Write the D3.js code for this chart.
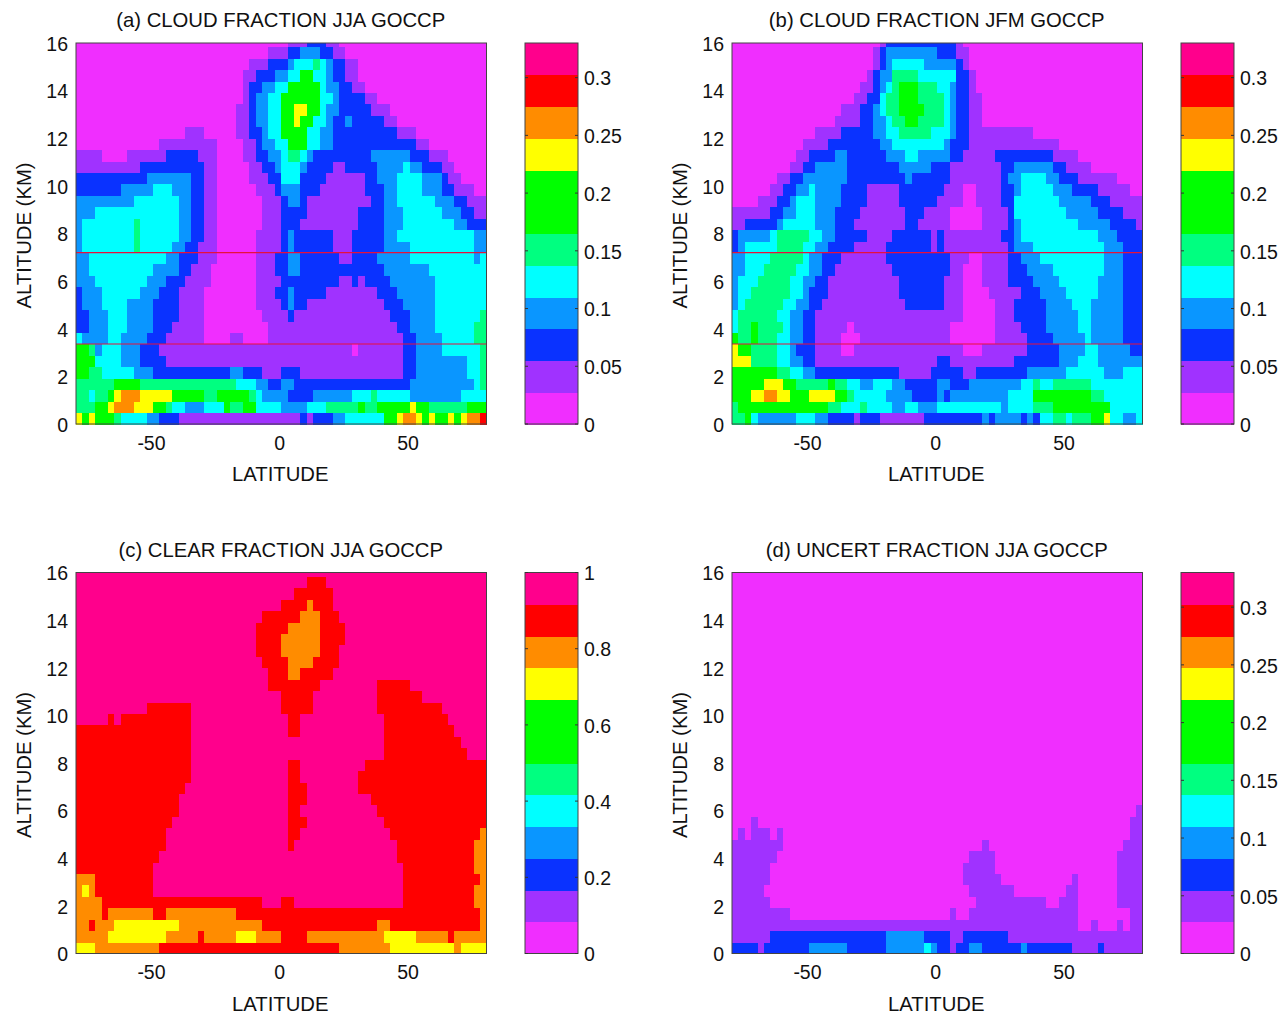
<!DOCTYPE html>
<html lang="en">

<head>
  <meta charset="UTF-8">
  <title>GOCCP cloud fractions</title>
  <script src="https://d3js.org/d3.v7.min.js"></script>
  <style>
    body {
      margin: 0;
      background: #fff;
    }

    text {
      font-family: "Liberation Sans", sans-serif;
      fill: #111;
    }
  </style>
</head>

<body>
  <svg width="1286" height="1015"></svg>
  <script>
    // rows run from the surface up, each level is 480 m, columns are 2.5 deg from 80S
    // a row reads as colour class + run length: M P B A C S G Y O R K, low to high
    const classBins = { M: 0, P: 1, B: 2, A: 3, C: 4, S: 5, G: 6, Y: 8, O: 9, R: 10, K: 11 }

    const cloudJJA = [
      "Y1 G1 Y1 G3 S1 C4 A2 B3 P19 B1 P1 B3 A2 C6 G2 Y1 O2 Y1 G1 Y1 G2 Y1 G1 Y1 O2 R1",
      "S3 G2 Y1 O3 Y3 G2 S1 C2 A3 C3 G1 S2 G2 C4 A4 C3 S5 G1 S2 G5 Y1 G2 S6 G3",
      "S2 C1 S2 G1 Y1 O3 Y5 G5 S2 G5 S1 C1 A4 B4 A6 C3 S1 C5 A8 C4",
      "S6 G4 S15 C3 A2 B2 A2 B18 A10 C1 S1",
      "G2 S2 C5 A3 B12 A2 B3 P3 B3 P16 B2 A8 C2 S1",
      "G3 C4 A3 B4 P37 B2 A8 C2 S1",
      "G2 S1 A1 C3 A3 B3 P30 M1 P7 B2 A4 C6 S1",
      "C1 A4 C2 A4 B3 P6 M4 P2 M4 P21 B2 A4 C5 S2",
      "B2 A3 C3 A4 B3 P5 M10 P20 B2 A4 C6 S2",
      "B2 A3 C3 A4 B4 P4 M9 P4 B1 P15 B3 A4 C7 S1",
      "B1 A3 C4 A4 B4 P4 M8 P4 B1 A1 B2 P12 B3 A5 C8",
      "B1 A3 C6 A3 B3 P4 M8 P3 B2 A1 B5 P8 B3 A6 C8",
      "A3 C8 A3 B3 P4 M7 P4 B9 P2 B1 P1 B4 A7 C8",
      "A2 C10 A4 B2 P3 M7 P3 B2 A2 B13 A7 C9",
      "A2 C12 A2 B3 P3 M6 P3 B2 A2 B6 P2 B4 A5 C10 A1 C1",
      "A1 C8 S1 C5 A2 B2 P3 M6 P4 B1 A1 B6 P3 B5 A4 C10 A2",
      "A1 C8 S1 C6 A2 B2 P2 M6 P4 B1 A1 B6 P3 B5 A2 C12 A2",
      "A1 C8 S1 C6 A2 B2 P2 M7 P3 B3 P9 B4 A3 C8 A2 B3",
      "A3 C13 A2 B2 P2 M7 P3 B4 P8 B4 A3 C6 A3 B2 P2",
      "A9 C7 A2 B2 P2 M7 P3 B1 A2 B1 P10 B2 A2 C6 A3 B2 P3",
      "B7 A5 C3 A3 B2 P2 M6 P3 B1 A3 B3 P7 B3 A2 C4 A3 B2 P3 M2",
      "B11 A7 B2 P2 M5 P3 B2 C3 B4 P6 B2 A3 C4 A3 B1 P2 M4",
      "P10 B10 P2 M5 P2 B2 A1 C3 A1 B4 P2 B5 A4 C1 A2 B3 P2 M5",
      "P4 M4 P6 B5 P3 M4 P2 B2 A2 C1 S2 C1 A1 B9 A6 B3 P3 M6",
      "M13 P9 M4 P2 B1 A2 C2 G3 C2 A2 B13 P2 M9",
      "M17 P3 M5 P2 B2 A1 C2 G4 C2 A2 B10 P3 M11",
      "M25 P2 B1 A2 C2 G2 Y1 G2 C2 A1 B2 A1 B5 P2 M14",
      "M25 P2 B1 A2 C2 G2 Y2 G2 C1 A2 B5 P3 M15",
      "M26 P1 B1 A2 C2 G6 C2 A1 B4 P2 M17",
      "M26 P1 B2 A2 C2 G5 C1 A2 B2 P2 M19",
      "M26 P2 B3 A2 C2 G2 C2 A1 B2 P2 M20",
      "M27 P3 B3 A1 C3 S1 C1 A1 B2 P2 M20",
      "M30 P3 B2 A3 B2 P2 M22",
      "M33 P3 B3 P2 M23"
    ]

    const cloudJFM = [
      "S2 G1 C1 A6 C3 A2 B4 P1 B3 P7 B9 A1 B1 A4 B1 A1 B1 C2 S2 C1 S3 G2 Y1 C2 A2 C1",
      "S1 G14 S2 C3 S1 C4 A2 C2 A3 C10 A1 C4 S3 G9 C5",
      "G3 Y2 O2 Y2 G3 Y4 G2 S1 C5 A4 B4 A1 B1 A9 C4 G9 S2 C6",
      "G5 Y3 G2 S5 G1 S2 C2 A2 C3 A2 B5 A2 B3 A8 C2 S1 C2 S6 C8",
      "G7 S2 C2 A2 B13 P5 B5 P2 B8 A6 C6 A3 C3",
      "Y3 S4 C2 A2 B2 P19 B2 P10 B7 A3 C3 A7",
      "Y1 G2 S4 C2 A1 B3 P4 M2 P17 M3 P7 B5 A4 C2 A5 B2",
      "G1 S2 G1 S3 C2 A2 B2 P4 M3 P14 M7 P5 B4 A5 C1 A5 B3",
      "C1 S2 G1 S4 C1 A2 B2 P5 M1 P15 M7 P4 B4 A5 C2 A5 B3",
      "C1 S6 C2 A2 B2 P23 M5 P3 B5 A5 C2 A5 B3",
      "A1 C1 S6 C2 A2 B2 P13 B6 P3 M5 P3 B5 A4 C3 A5 B3",
      "A1 C2 S6 C2 A1 B3 P11 B7 P3 M4 P5 B3 A4 C5 A4 B3",
      "A1 C3 S5 C2 A2 B2 P11 B7 P3 M3 P4 B4 A4 C6 A4 B3",
      "A2 C3 S5 C2 A2 B2 P9 B9 P2 M3 P4 B3 A4 C8 A3 B3",
      "A2 C4 S5 C1 A2 B3 P7 B10 P3 M2 P4 B2 A3 C10 A3 B3",
      "B1 A1 C5 S4 C2 A2 B4 P5 B7 P1 B1 P10 B1 A3 C11 A3 B3",
      "B1 A5 C1 S5 C2 A2 B5 P4 B6 P1 B1 P9 B2 A1 C12 A3 B4",
      "P2 B5 A1 C5 A3 B3 P8 B2 P5 M5 P4 B1 A1 C9 A5 B4 P1",
      "P6 B2 A2 C3 A3 B4 P7 B3 P4 M5 P4 B1 C8 A5 B4 P3",
      "M4 P3 B2 A1 C3 A4 B4 P5 B6 P4 M2 P4 B2 C7 A5 B3 P5",
      "M6 P2 B2 A2 C1 A4 B4 P5 B7 P3 M2 P4 B2 A1 C5 A3 B4 P5 M2",
      "M7 P2 B2 A7 B9 A1 B6 P8 B1 A2 C4 A2 B3 P6 M4",
      "M9 P2 B2 A5 B8 A5 B3 P8 B2 A6 B2 P4 M8",
      "M10 P2 B4 A2 B6 A3 C2 A5 B2 P5 B9 P4 M10",
      "M11 P4 B8 A2 C8 A1 B3 P14 M13",
      "M13 P4 B5 A2 C2 S5 C3 A1 B2 P10 M17",
      "M16 P4 B2 A2 C1 S2 G2 S4 C1 A1 B2 P2 M25",
      "M17 P3 B2 A1 C1 S2 G4 S3 C1 A1 B2 P2 M25",
      "M19 P2 B2 C1 S2 G3 S4 C1 A1 B2 P2 M25",
      "M20 P2 B1 A1 C1 S1 G3 S3 C2 A1 B2 P1 M26",
      "M21 P1 B1 A2 S4 C6 B2 P1 M26",
      "M22 P1 B1 A1 C5 A5 B1 P1 M27",
      "M22 P1 B1 A8 B3 P2 M27",
      "M23 P1 B11 P1 M28"
    ]

    const clearJJA = [
      "Y3 O10 R28 O8 Y10 O1 Y4",
      "O5 Y9 O5 R1 O5 Y3 O4 R4 O12 Y5 O5 R1 O5",
      "O2 R1 O3 Y10 O13 R18 O2 R14 O1",
      "O4 R1 O7 R2 O11 R38 O1",
      "O4 R25 K3 R2 K17 R11 O2",
      "O1 Y1 O1 R9 K39 R11 O2",
      "O3 R9 K39 R12 O1",
      "R12 K39 R11 O2",
      "R13 K37 R12 O2",
      "R14 K19 R1 K16 R12 O2",
      "R14 K19 R2 K14 R14 O1",
      "R15 K18 R3 K12 R16",
      "R16 K17 R2 K12 R17",
      "R16 K17 R3 K10 R18",
      "R17 K16 R3 K8 R20",
      "R18 K15 R2 K9 R20",
      "R18 K15 R2 K10 R19",
      "R18 K30 R13 K3",
      "R18 K30 R12 K4",
      "R18 K15 R2 K13 R11 K5",
      "K5 R1 K1 R11 K15 R2 K13 R10 K6",
      "K11 R7 K14 R5 K10 R10 K7",
      "K32 R5 K10 R7 K10",
      "K30 R8 K9 R5 K12",
      "K30 R3 O2 R5 K24",
      "K29 R4 O4 R4 K23",
      "K28 R4 O6 R3 K23",
      "K28 R4 O6 R4 K22",
      "K28 R5 O5 R4 K22",
      "K29 R6 O3 R3 K23",
      "K32 R4 O1 R3 K24",
      "K34 R6 K24",
      "K36 R3 K25",
      "K64"
    ]

    const uncertJJA = [
      "B4 P1 B7 A6 B6 A6 C1 A1 B2 P1 B2 A2 B6 A1 B7 P4 B1 P6",
      "P6 B18 A6 B4 P2 B7 P21",
      "P54 M2 P1 M3 P1 M1 P2",
      "P9 M25 P1 M2 P17 M8 P2",
      "P6 M32 P11 M2 P3 M6 P4",
      "P5 M32 P7 M8 P2 M6 P4",
      "P6 M30 P6 M11 P1 M6 P4",
      "P6 M30 P5 M19 P4",
      "P7 M30 P4 M19 P4",
      "P8 M31 P1 M21 P3",
      "M1 P1 M1 P3 M1 P1 M54 P2",
      "M3 P1 M58 P2",
      "M63 P1",
      "M64", "M64", "M64", "M64", "M64", "M64", "M64", "M64",
      "M64", "M64", "M64", "M64", "M64", "M64", "M64", "M64",
      "M64", "M64", "M64", "M64", "M64"
    ]

    const latTicks = [-50, 0, 50]
    const altTicks = [0, 2, 4, 6, 8, 10, 12, 14, 16]
    const fractionTicks = [0, 0.05, 0.1, 0.15, 0.2, 0.25, 0.3]
    const clearTicks = [0, 0.2, 0.4, 0.6, 0.8, 1]
    const markedAltitudes = [3.36, 7.2]

    const palette = ["#f02eff", "#a032ff", "#0a32ff", "#0a96ff", "#00ffff", "#00ff80",
      "#00ff00", "#00ff00", "#ffff00", "#ff8c00", "#ff0000", "#ff008c"]

    const panels = [
      { title: "(a) CLOUD FRACTION JJA GOCCP", rows: cloudJJA, max: 0.33, ticks: fractionTicks, left: 76, top: 43, lines: markedAltitudes },
      { title: "(b) CLOUD FRACTION JFM GOCCP", rows: cloudJFM, max: 0.33, ticks: fractionTicks, left: 732, top: 43, lines: markedAltitudes },
      { title: "(c) CLEAR FRACTION JJA GOCCP", rows: clearJJA, max: 1, ticks: clearTicks, left: 76, top: 572.5, lines: [] },
      { title: "(d) UNCERT FRACTION JJA GOCCP", rows: uncertJJA, max: 0.33, ticks: fractionTicks, left: 732, top: 572.5, lines: [] }
    ]

    const plotW = 410.5
    const plotH = 381
    const latStep = 2.5
    const altStep = 0.48
    const tickFont = 19.5
    const labelFont = 20.3

    const svg = d3.select("svg")

    // turn one run-length row into cells with a fraction in the middle of the class
    function decode(rows, max) {
      const cells = []
      rows.forEach((row, level) => {
        let col = 0
        row.split(" ").forEach(run => {
          const bin = classBins[run[0]]
          const n = +run.slice(1)
          for (let i = 0; i < n; i++) {
            cells.push({
              lat: -80 + col * latStep,
              alt: level * altStep,
              value: (bin + 0.5) / palette.length * max
            })
            col++
          }
        })
      })
      return cells
    }

    panels.forEach(p => {
      const g = svg.append("g")
      const x = d3.scaleLinear().domain([-80, 80]).range([p.left, p.left + plotW])
      const y = d3.scaleLinear().domain([0, 16]).range([p.top + plotH, p.top])
      const color = d3.scaleQuantize().domain([0, p.max]).range(palette)

      g.append("g")
        .attr("shape-rendering", "crispEdges")
        .selectAll("rect")
        .data(decode(p.rows, p.max))
        .join("rect")
        .attr("x", d => x(d.lat))
        .attr("y", d => y(Math.min(d.alt + altStep, 16)))
        .attr("width", x(latStep) - x(0) + 0.5)
        .attr("height", d => y(d.alt) - y(Math.min(d.alt + altStep, 16)) + 0.5)
        .attr("fill", d => color(d.value))

      g.selectAll("line.mark")
        .data(p.lines)
        .join("line")
        .attr("class", "mark")
        .attr("x1", p.left)
        .attr("x2", p.left + plotW)
        .attr("y1", d => y(d))
        .attr("y2", d => y(d))
        .attr("stroke", "#e8103c")
        .attr("stroke-width", 1.2)

      g.append("rect")
        .attr("x", p.left)
        .attr("y", p.top)
        .attr("width", plotW)
        .attr("height", plotH)
        .attr("fill", "none")
        .attr("stroke", "#444")

      const xAxis = g.append("g")
        .attr("transform", `translate(-2,${p.top + plotH})`)
        .call(d3.axisBottom(x).tickValues(latTicks).tickSize(0).tickPadding(12).tickFormat(d => d))
      const yAxis = g.append("g")
        .attr("transform", `translate(${p.left},1)`)
        .call(d3.axisLeft(y).tickValues(altTicks).tickSize(0).tickPadding(8))
      xAxis.select(".domain").remove()
      yAxis.select(".domain").remove()
      g.selectAll(".tick text").attr("font-size", tickFont)

      g.append("text")
        .attr("x", p.left + plotW / 2 - 1)
        .attr("y", p.top + plotH + 57)
        .attr("text-anchor", "middle")
        .attr("font-size", labelFont)
        .text("LATITUDE")

      g.append("text")
        .attr("transform", `translate(${p.left - 45},${p.top + plotH / 2 + 2}) rotate(-90)`)
        .attr("text-anchor", "middle")
        .attr("font-size", labelFont)
        .text("ALTITUDE (KM)")

      g.append("text")
        .attr("x", p.left + plotW / 2 - 0.5)
        .attr("y", p.top - 16)
        .attr("text-anchor", "middle")
        .attr("font-size", labelFont)
        .text(p.title)

      // colour bar
      const barLeft = p.left + 449
      const barW = 53
      const bar = svg.append("g")
      const bins = d3.range(palette.length).map(i => (i + 0.5) / palette.length * p.max)
      const binH = plotH / palette.length
      const barY = d3.scaleLinear().domain([0, p.max]).range([p.top + plotH, p.top])

      bar.append("g")
        .attr("shape-rendering", "crispEdges")
        .selectAll("rect")
        .data(bins)
        .join("rect")
        .attr("x", barLeft)
        .attr("y", d => barY(d) - binH / 2)
        .attr("width", barW)
        .attr("height", binH + 0.5)
        .attr("fill", d => color(d))

      bar.append("rect")
        .attr("x", barLeft)
        .attr("y", p.top)
        .attr("width", barW)
        .attr("height", plotH)
        .attr("fill", "none")
        .attr("stroke", "#444")

      const barAxis = bar.append("g")
        .attr("transform", `translate(${barLeft + barW},1)`)
        .call(d3.axisRight(barY).tickValues(p.ticks).tickSize(0).tickPadding(6).tickFormat(d => d))
      barAxis.select(".domain").remove()
      barAxis.selectAll("text").attr("font-size", tickFont)

      bar.selectAll("line.tick-mark")
        .data(p.ticks.flatMap(t => [[barLeft, barLeft + 3, t], [barLeft + barW - 3, barLeft + barW, t]]))
        .join("line")
        .attr("class", "tick-mark")
        .attr("x1", d => d[0])
        .attr("x2", d => d[1])
        .attr("y1", d => barY(d[2]))
        .attr("y2", d => barY(d[2]))
        .attr("stroke", "#333")
    })
  </script>
</body>

</html>
